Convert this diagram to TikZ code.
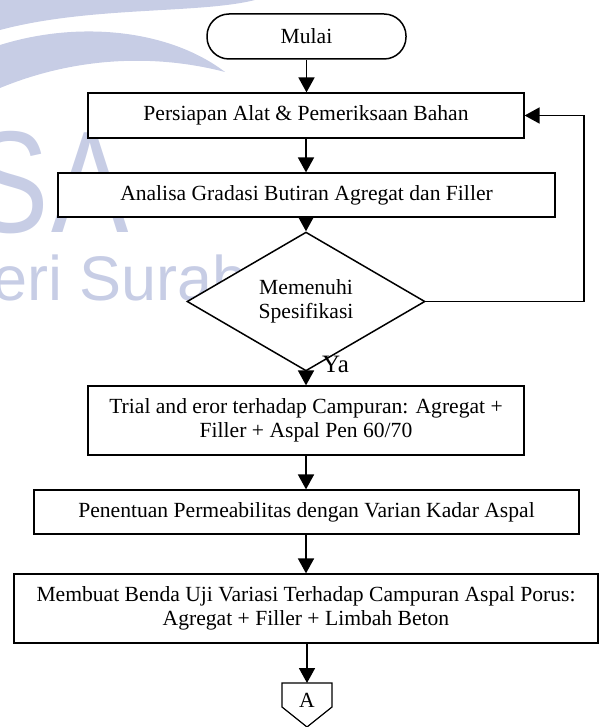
\documentclass[tikz,border=0pt]{standalone}
\usepackage{fontspec}
\setmainfont{Liberation Serif}
\newfontfamily\wmfont{Liberation Sans}
\usetikzlibrary{arrows.meta,shapes.geometric}
\definecolor{wm}{RGB}{199,205,229}
\begin{document}
\begin{tikzpicture}[x=1pt,y=-1pt,
  every node/.style={font=\fontsize{21.6}{24.5}\selectfont, inner sep=0pt},
  box/.style={draw, fill=white, line width=1.2pt, minimum height=45pt, align=center},
  term/.style={draw, fill=white, line width=1.5pt, rounded corners=22pt, minimum width=199pt, minimum height=45pt},
  dec/.style={draw, fill=white, line width=1.5pt, diamond, minimum width=238pt, minimum height=97pt, align=center},
  flow/.style={line width=1.8pt, -{Triangle[length=15pt,width=16pt]}},
  wmtext/.style={text=wm, inner sep=0pt},
]
\useasboundingbox (0,0) rectangle (600,727);
% watermark
\begin{scope}
\clip (0,0) rectangle (600,727);
\fill[wm] (0,0) -- (255,0) .. controls (200,14) and (90,6) .. (0,30) -- cycle;
\fill[wm] (0,45) .. controls (80,20) and (170,30) .. (225,72) .. controls (160,55) and (80,55) .. (0,88) -- cycle;
\node[wmtext, font=\wmfont\fontsize{145}{150}\selectfont, anchor=base] (wmS) at (10,232) {\scalebox{0.8}[1]{S}};
\node[wmtext, font=\wmfont\fontsize{145}{150}\selectfont, anchor=base] (wmA) at (90,232) {\scalebox{0.8}[1]{A}};
\node[wmtext, font=\wmfont\fontsize{63}{66}\selectfont, anchor=base west] (wmT) at (-8,300) {eri Surab};
\end{scope}
% flowchart
\node[term] (start) at (306.5,36.5) {Mulai};
\node[box, minimum width=436pt] (prep) at (306,115.5) {Persiapan Alat \& Pemeriksaan Bahan};
\node[box, minimum width=497pt, minimum height=44pt] (grad) at (306.5,195) {Analisa Gradasi Butiran Agregat dan Filler};
\node[dec] (spec) at (306,301.5) {Memenuhi\\Spesifikasi};
\node[box, minimum width=436pt, minimum height=69pt] (trial) at (306,420.5) {Trial and eror terhadap Campuran: Agregat +\\Filler + Aspal Pen 60/70};
\node[box, minimum width=545pt, minimum height=44pt] (perm) at (306.5,512) {Penentuan Permeabilitas dengan Varian Kadar Aspal};
\node[box, minimum width=584pt, minimum height=69pt] (make) at (306,608.5) {Membuat Benda Uji Variasi Terhadap Campuran Aspal Porus:\\Agregat + Filler + Limbah Beton};
\draw[line width=1.2pt, fill=white] (282,683) -- (332,683) -- (332,707) -- (307,727) -- (282,707) -- cycle;
\node (conn) at (307,700) {A};
\coordinate (ctop) at (307,683);
\node[font=\fontsize{25}{28}\selectfont, anchor=base west] (ya) at (322,372) {Ya};
% connectors
\draw[flow] (start.south) -- (start.south |- prep.north);
\draw[flow] (prep.south) -- (prep.south |- grad.north);
\draw[flow] (grad.south -| spec.north) -- (spec.north);
\draw[flow] (spec.south) -- (spec.south |- trial.north);
\draw[flow] (trial.south) -- (trial.south |- perm.north);
\draw[flow] (trial.south |- perm.south) -- (trial.south |- make.north);
\draw[flow] (make.south -| ctop) -- (ctop);
\coordinate (fbx) at (584,0);
\draw[flow] (spec.east) -- (spec.east -| fbx) -- (fbx |- prep.east) -- (prep.east);
\end{tikzpicture}
\end{document}
